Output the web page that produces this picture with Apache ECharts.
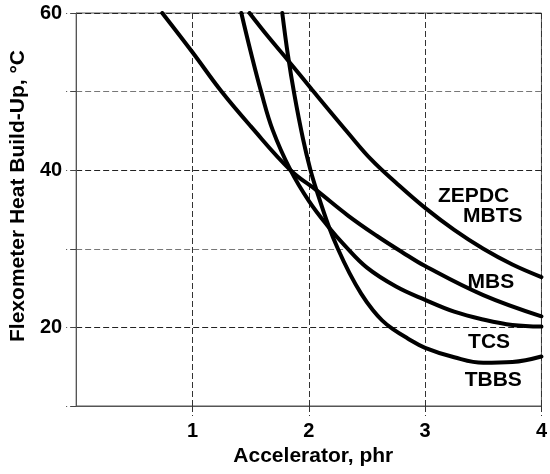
<!DOCTYPE html>
<html>
<head>
<meta charset="utf-8">
<script src="https://cdn.jsdelivr.net/npm/echarts@6/dist/echarts.min.js"></script>
<style>
  html, body { margin: 0; padding: 0; background: #fff; }
  #chart { width: 550px; height: 474px; }
</style>
</head>
<body>
<div id="chart"></div>
<script>
// Heat build-up (°C) against accelerator level (phr) for five accelerator systems
const zepdcMbts = [[1.49, 60], [1.65, 57.0], [1.82, 54.0], [2.03, 50.2], [2.34, 44.7], [2.54, 41.3],
                   [2.75, 38.4], [3.0, 35.2], [3.25, 32.4], [3.5, 30.0], [3.75, 28.0], [4.0, 26.4]];
const mbs = [[0.74, 60], [1.0, 55.0], [1.25, 50], [1.5, 45.6], [1.843, 40], [2.07, 37.4],
             [2.34, 34.2], [2.59, 31.6], [2.8, 29.6], [3.0, 27.8], [3.5, 24.1], [4.0, 21.4]];
const tcs = [[1.42, 60], [1.5, 55.1], [1.59, 50], [1.69, 45.1], [1.843, 40], [2.0, 36.1],
             [2.168, 32.8], [2.31, 30.4], [2.5, 27.6], [2.75, 25.2], [3.0, 23.5], [3.25, 22.0],
             [3.5, 21.0], [3.75, 20.3], [4.0, 20.1]];
const tbbs = [[1.772, 60], [1.82, 54.7], [1.875, 49.7], [1.95, 44.0], [2.013, 40.1], [2.07, 37.3],
              [2.168, 33.0], [2.25, 30.0], [2.35, 26.9], [2.45, 24.3], [2.55, 22.2], [2.63, 20.9],
              [2.72, 19.8], [2.85, 18.6], [3.0, 17.4], [3.25, 16.2], [3.5, 15.5], [3.75, 15.6], [4.0, 16.3]];

const curveNames = ['ZEPDC', 'MBTS', 'MBS', 'TCS', 'TBBS'];
// where each curve caption sits, in axis units
const captionAnchors = [[3.417, 36.7], [3.582, 34.2], [3.565, 25.7], [3.55, 18.1], [3.586, 13.3]];

const xTickLabels = [1, 2, 3, 4];
const yTickLabels = [20, 40, 60];

const FONT = 'Liberation Sans, Arial, Helvetica, sans-serif';

const curveStyle = {
  type: 'line',
  smooth: 0.4,
  showSymbol: false,
  symbol: 'none',
  silent: true,
  clip: true,
  lineStyle: { color: '#000', width: 4, cap: 'round' }
};

const chart = echarts.init(document.getElementById('chart'), null, { renderer: 'canvas' });

chart.setOption({
  animation: false,
  backgroundColor: '#fff',
  grid: {
    left: 74, right: 3.5, top: 13, bottom: 68,
    show: true, borderColor: '#555', borderWidth: 1, backgroundColor: 'transparent'
  },
  xAxis: {
    type: 'value', min: 0, max: 4, interval: 1,
    name: 'Accelerator, phr',
    nameLocation: 'middle', nameGap: 39,
    nameTextStyle: { fontFamily: FONT, fontWeight: 'bold', fontSize: 21, color: '#000', padding: [0, 0, 0, 9] },
    axisLine: { show: true, lineStyle: { color: '#555', width: 1 } },
    axisTick: { show: true, length: 10, customValues: xTickLabels,
                lineStyle: { color: '#333', width: 1, type: [6, 3] } },
    axisLabel: { show: true, margin: 15, customValues: xTickLabels,
                 fontFamily: FONT, fontWeight: 'bold', fontSize: 20, color: '#000' },
    splitLine: { show: true, lineStyle: { color: '#333', width: 1, type: [6, 3] } }
  },
  yAxis: {
    type: 'value', min: 10, max: 60, interval: 10,
    name: 'Flexometer Heat Build-Up, °C',
    nameLocation: 'middle', nameGap: 46, nameRotate: 90,
    nameTextStyle: { fontFamily: FONT, fontWeight: 'bold', fontSize: 21, color: '#000', padding: [0, 0, 0, 27] },
    axisLine: { show: true, lineStyle: { color: '#555', width: 1 } },
    axisTick: { show: true, length: 10, lineStyle: { color: '#444', width: 1, type: [6, 3] } },
    axisLabel: { show: true, margin: 14, customValues: yTickLabels,
                 fontFamily: FONT, fontWeight: 'bold', fontSize: 20, color: '#000' },
    splitLine: { show: true, lineStyle: { color: ['#777', '#222'], width: 1, type: [6, 3] } }
  },
  series: [
    Object.assign({ name: 'ZEPDC MBTS', data: zepdcMbts }, curveStyle),
    Object.assign({ name: 'MBS', data: mbs }, curveStyle),
    Object.assign({ name: 'TCS', data: tcs }, curveStyle),
    Object.assign({ name: 'TBBS', data: tbbs }, curveStyle),
    {
      name: 'captions',
      type: 'scatter',
      silent: true,
      symbolSize: 1,
      itemStyle: { color: 'rgba(0,0,0,0)', opacity: 1 },
      label: {
        show: true, position: 'inside', opacity: 1,
        formatter: p => p.name,
        fontFamily: FONT, fontWeight: 'bold', fontSize: 21, color: '#000'
      },
      data: curveNames.map((n, i) => ({ name: n, value: captionAnchors[i] }))
    }
  ]
});
</script>
</body>
</html>
